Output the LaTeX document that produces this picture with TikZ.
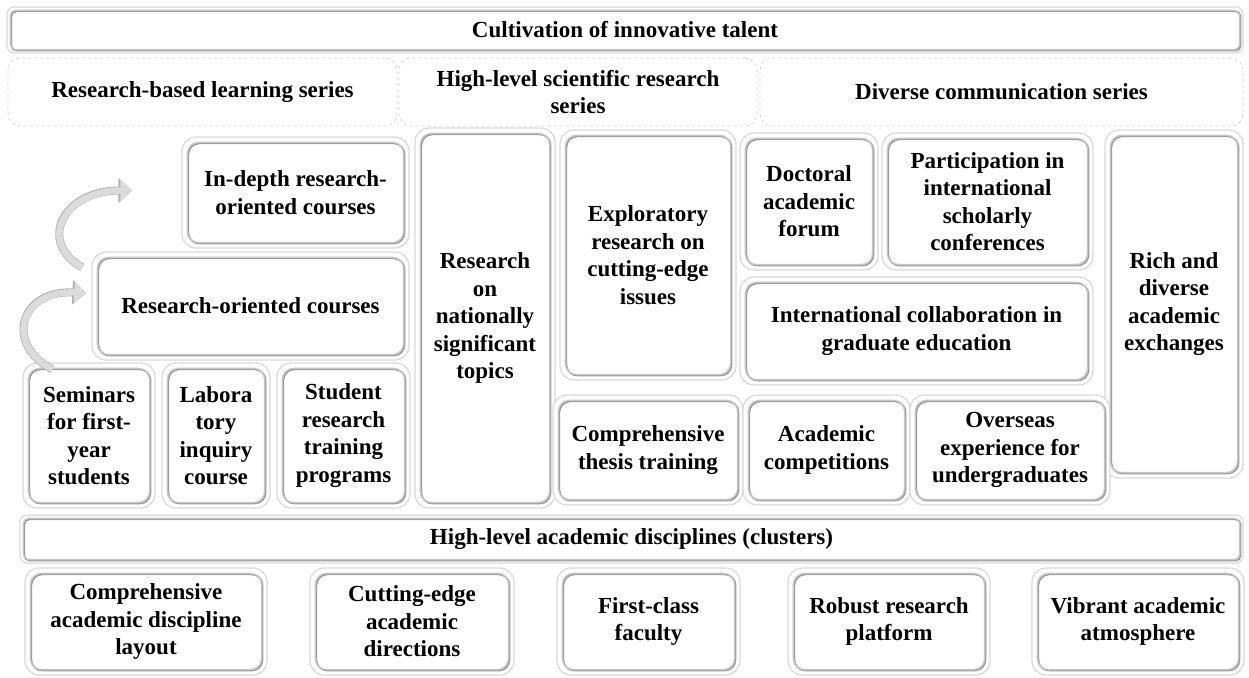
\documentclass[tikz,border=0pt]{standalone}
\usepackage{fontspec}
\setmainfont{Liberation Serif}
\usetikzlibrary{arrows.meta}
\newcommand{\panelFont}{\bfseries\fontsize{23}{27.5}\selectfont}
\tikzstyle{panel} = [draw=gray!30, line width=1.2pt, fill=white, rounded corners=14pt, align=center, inner sep=0pt, font=\panelFont]
\tikzstyle{panelInner} = [draw=gray!45, line width=1.4pt, rounded corners=11pt]
\tikzstyle{panelShade} = [draw=gray!80, line width=1.6pt, rounded corners=11pt]
\tikzstyle{barStyle} = [panel, rounded corners=7pt]
\tikzstyle{barInner} = [panelInner, rounded corners=5pt]
\tikzstyle{barShade} = [panelShade, rounded corners=5pt]
\tikzstyle{seriesStyle} = [draw=gray!35, dashed, line width=0.7pt, rounded corners=12pt, align=center, inner sep=0pt, font=\panelFont]
\tikzstyle{stepArrow} = [line width=6.5pt, draw=gray!28, -{Triangle[length=12pt,width=21pt]}, preaction={draw=gray!60, line width=8pt, -{Triangle[length=14pt,width=24pt]}}]
% box from corner (#3,#4) to corner (#5,#6), pixel units, y downwards
\newcommand{\placeBox}[7]{
  \pgfmathsetmacro{\boxW}{#5-#3}
  \pgfmathsetmacro{\boxH}{#6-#4}
  \node[#1, minimum width=\boxW pt, minimum height=\boxH pt] (#2) at ({(#3+#5)/2},{(#4+#6)/2}) {#7};
}
% inner rim with a darker edge to the lower right
\newcommand{\innerRim}[4]{
  \draw[#2] ([shift={(#4pt+1pt,#4pt-1pt)}]#3.south west) rectangle ([shift={(-#4pt+1pt,-#4pt-1pt)}]#3.north east);
  \draw[#1] ([shift={(#4pt,#4pt)}]#3.south west) rectangle ([shift={(-#4pt,-#4pt)}]#3.north east);
}

\begin{document}
\begin{tikzpicture}[x=1pt, y=-1pt]
  \useasboundingbox (0,0) rectangle (1249,677);

  % top level
  \placeBox{barStyle}{talent}{7}{7}{1243}{53}{Cultivation of innovative talent}
  \innerRim{barInner}{barShade}{talent}{4}

  % three series
  \placeBox{seriesStyle}{learnSeries}{8}{58}{397}{126}{Research-based learning series}
  \placeBox{seriesStyle}{sciSeries}{399}{58}{757}{126}{High-level scientific research\\series}
  \placeBox{seriesStyle}{commSeries}{760}{58}{1243}{126}{Diverse communication series}

  % research-based learning
  \placeBox{panel}{indepth}{182}{137}{409}{248}{In-depth research-\\oriented courses}
  \placeBox{panel}{oriented}{92}{252}{409}{360}{Research-oriented courses}
  \placeBox{panel}{seminars}{23}{363}{155}{508}{Seminars\\for first-\\year\\students}
  \placeBox{panel}{labor}{162}{363}{270}{508}{Labora\\tory\\inquiry\\course}
  \placeBox{panel}{training}{277}{363}{410}{508}{Student\\research\\training\\programs}

  % scientific research
  \placeBox{panel}{national}{415}{128}{555}{508}{Research\\on\\nationally\\significant\\topics}
  \placeBox{panel}{frontier}{560}{130}{736}{380}{Exploratory\\research on\\cutting-edge\\issues}
  \placeBox{panel}{thesis}{553}{395}{743}{505}{Comprehensive\\thesis training}

  % communication
  \placeBox{panel}{forum}{740}{133}{878}{270}{Doctoral\\academic\\forum}
  \placeBox{panel}{conference}{882}{133}{1093}{270}{Participation in\\international\\scholarly\\conferences}
  \placeBox{panel}{graduate}{740}{277}{1093}{385}{International collaboration in\\graduate education}
  \placeBox{panel}{exchange}{1105}{130}{1243}{478}{Rich and\\diverse\\academic\\exchanges}
  \placeBox{panel}{contest}{743}{395}{910}{505}{Academic\\competitions}
  \placeBox{panel}{overseas}{910}{395}{1110}{505}{Overseas\\experience for\\undergraduates}

  % disciplines
  \placeBox{barStyle}{disciplines}{20}{515}{1243}{563}{High-level academic disciplines (clusters)}
  \innerRim{barInner}{barShade}{disciplines}{4}
  \placeBox{panel}{layout}{25}{568}{267}{675}{Comprehensive\\academic discipline\\layout}
  \placeBox{panel}{directions}{310}{568}{514}{675}{Cutting-edge\\academic\\directions}
  \placeBox{panel}{faculty}{557}{568}{740}{675}{First-class\\faculty}
  \placeBox{panel}{platform}{788}{568}{990}{675}{Robust research\\platform}
  \placeBox{panel}{atmosphere}{1032}{568}{1244}{675}{Vibrant academic\\atmosphere}

  \foreach \n in {indepth,oriented,seminars,labor,training,national,frontier,thesis,
                  forum,conference,graduate,exchange,contest,overseas,
                  layout,directions,faculty,platform,atmosphere}{
    \innerRim{panelInner}{panelShade}{\n}{6}
  }

  % stepping arrows
  \coordinate (tailA) at ([shift={(30pt,-7pt)}]seminars.north west);
  \coordinate (tipA) at ([shift={(-5pt,13pt)}]oriented.west);
  \coordinate (tailB) at ([shift={(-9pt,-16pt)}]oriented.north west);
  \coordinate (tipB) at ([shift={(-49pt,2pt)}]indepth.west);
  \draw[stepArrow] (tailA) .. controls +(-48,-25) and +(-67,-3) .. (tipA);
  \draw[stepArrow] (tailB) .. controls +(-45,-25) and +(-70,0) .. (tipB);
\end{tikzpicture}
\end{document}
